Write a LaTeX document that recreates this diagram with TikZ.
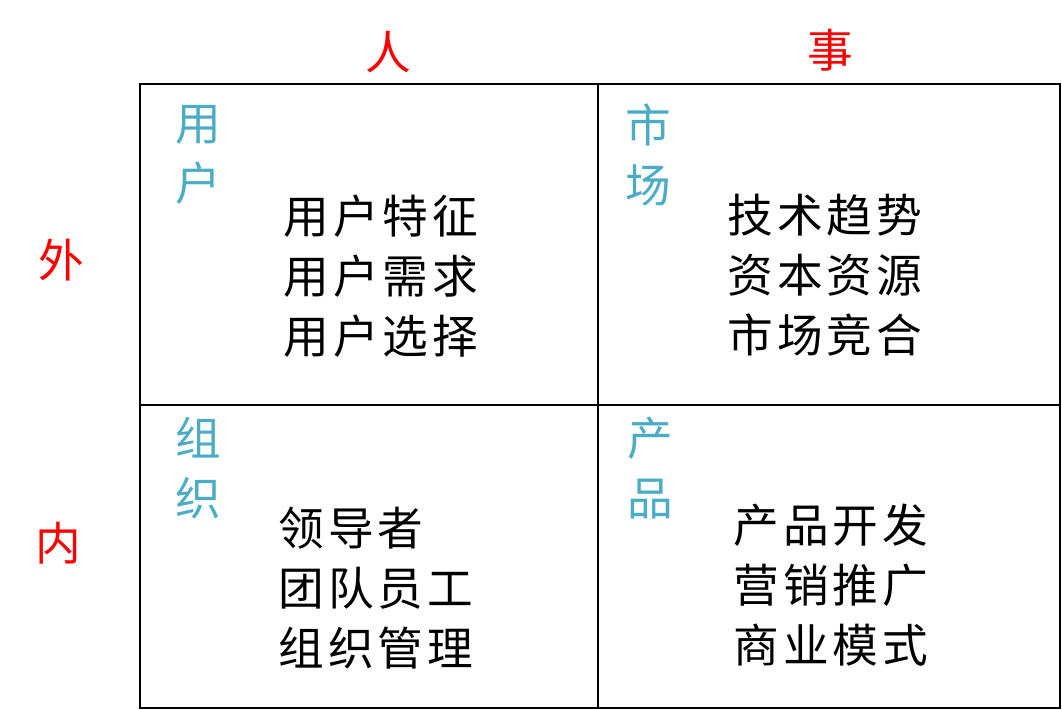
\documentclass[tikz,border=0pt]{standalone}
\usepackage{fontspec}
\newfontfamily\cjk[LetterSpace=9]{Noto Sans CJK SC}
\definecolor{titlecyan}{HTML}{4BACC6}
\begin{document}
\begin{tikzpicture}
        [x=0.02cm, y=-0.02cm,
         head_style/.style={inner sep=0pt, text=red, font=\cjk\fontsize{26}{34}\selectfont},
         title_style/.style={inner sep=0pt, text=titlecyan, align=center, font=\cjk\fontsize{26}{34}\selectfont},
         item_style/.style={inner sep=0pt, anchor=west, align=left, font=\cjk\fontsize{26}{34}\selectfont},
         grid_style/.style={draw=black, line width=1.2pt}]
            \useasboundingbox (0, 0) rectangle (1062, 710);
            \draw[grid_style] (140, 84) rectangle (1060, 708);
            \draw[grid_style] (598, 84) -- (598, 708);
            \draw[grid_style] (140, 405) -- (1060, 405);
            \node[head_style] (ren) at (388, 52)  {人};
            \node[head_style] (shi) at (830, 50)  {事};
            \node[head_style] (wai) at (61, 260)  {外};
            \node[head_style] (nei) at (58, 543)  {内};
            \node[title_style] (yonghu) at (198, 155)  {用\\户};
            \node[title_style] (shichang) at (648, 155)  {市\\场};
            \node[title_style] (zuzhi) at (198, 468)  {组\\织};
            \node[title_style] (chanpin) at (650, 468)  {产\\品};
            \node[item_style] (yonghu_items) at (283, 276)  {用户特征\\用户需求\\用户选择};
            \node[item_style] (shichang_items) at (727, 275)  {技术趋势\\资本资源\\市场竞合};
            \node[item_style] (zuzhi_items) at (278, 588)  {领导者\\团队员工\\组织管理};
            \node[item_style] (chanpin_items) at (733, 585)  {产品开发\\营销推广\\商业模式};
        \end{tikzpicture}
\end{document}
